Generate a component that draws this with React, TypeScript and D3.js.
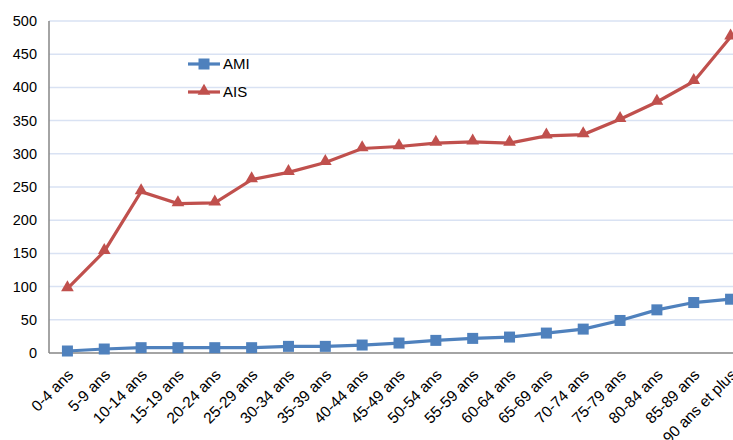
import React from "react";
import * as d3 from "d3";

const categories = [
  "0-4 ans", "5-9 ans", "10-14 ans", "15-19 ans", "20-24 ans", "25-29 ans",
  "30-34 ans", "35-39 ans", "40-44 ans", "45-49 ans", "50-54 ans", "55-59 ans",
  "60-64 ans", "65-69 ans", "70-74 ans", "75-79 ans", "80-84 ans", "85-89 ans",
  "90 ans et plus",
];
const amiValues = [3, 6, 8, 8, 8, 8, 10, 10, 12, 15, 19, 22, 24, 30, 36, 49, 65, 76, 81];
const aisValues = [97, 153, 243, 225, 226, 261, 272, 287, 308, 311, 316, 318, 316, 327, 329, 352, 378, 409, 476];
const yTicks = [0, 50, 100, 150, 200, 250, 300, 350, 400, 450, 500];
const seriesNames = ["AMI", "AIS"];

const W = 733;
const H = 440;
const left = 49;
const top = 21;
const bottom = 353;
const plotRight = 749;
const FONT = "'Liberation Sans', Arial, sans-serif";
const BLUE = "#4F81BD";
const RED = "#C0504D";

export default function App() {
  const x = d3.scalePoint<string>().domain(categories).range([left, plotRight]).padding(0.5);
  const y = d3.scaleLinear().domain([0, 500]).range([bottom, top]);
  const line = d3
    .line<number>()
    .x((_, i) => x(categories[i]) as number)
    .y((d) => y(d));
  const tri = d3.symbol().type(d3.symbolTriangle).size(70)();
  const sq = 11;

  return (
    <svg width={W} height={H} style={{ position: "absolute", left: 0, top: 0, fontFamily: FONT }}>
      <rect width={W} height={H} fill="#fff" />
      {yTicks.map((t) => (
        <g key={t}>
          {t > 0 && <line x1={left} x2={W} y1={y(t)} y2={y(t)} stroke="#D9E2F3" strokeWidth={1.5} />}
          <text x={37} y={y(t)} dy="0.35em" textAnchor="end" fontSize={14.5} fill="#000">
            {t}
          </text>
        </g>
      ))}
      <line x1={left} x2={left} y1={top} y2={bottom} stroke="#868686" strokeWidth={1.5} />
      <line x1={left} x2={W} y1={bottom} y2={bottom} stroke="#868686" strokeWidth={1.5} />
      {categories.map((c) => (
        <text
          key={c}
          transform={`translate(${(x(c) as number) + 3},${bottom + 19}) rotate(-45)`}
          textAnchor="end"
          dy="0.35em"
          fontSize={15.5}
          fill="#000"
        >
          {c}
        </text>
      ))}
      <path d={line(aisValues) || ""} fill="none" stroke={RED} strokeWidth={3.2} />
      {aisValues.map((v, i) => (
        <path key={i} d={tri || ""} transform={`translate(${x(categories[i])},${y(v) - 1})`} fill={RED} />
      ))}
      <path d={line(amiValues) || ""} fill="none" stroke={BLUE} strokeWidth={3.2} />
      {amiValues.map((v, i) => (
        <rect
          key={i}
          x={(x(categories[i]) as number) - sq / 2}
          y={y(v) - sq / 2}
          width={sq}
          height={sq}
          fill={BLUE}
        />
      ))}
      {/* legend */}
      <g>
        <line x1={188} x2={220} y1={64} y2={64} stroke={BLUE} strokeWidth={3.2} />
        <rect x={204 - sq / 2} y={64 - sq / 2} width={sq} height={sq} fill={BLUE} />
        <text x={223} y={64} dy="0.35em" fontSize={15} fill="#000">{seriesNames[0]}</text>
        <line x1={188} x2={220} y1={92} y2={92} stroke={RED} strokeWidth={3.2} />
        <path d={tri || ""} transform={`translate(204,91)`} fill={RED} />
        <text x={223} y={92} dy="0.35em" fontSize={15} fill="#000">{seriesNames[1]}</text>
      </g>
    </svg>
  );
}
